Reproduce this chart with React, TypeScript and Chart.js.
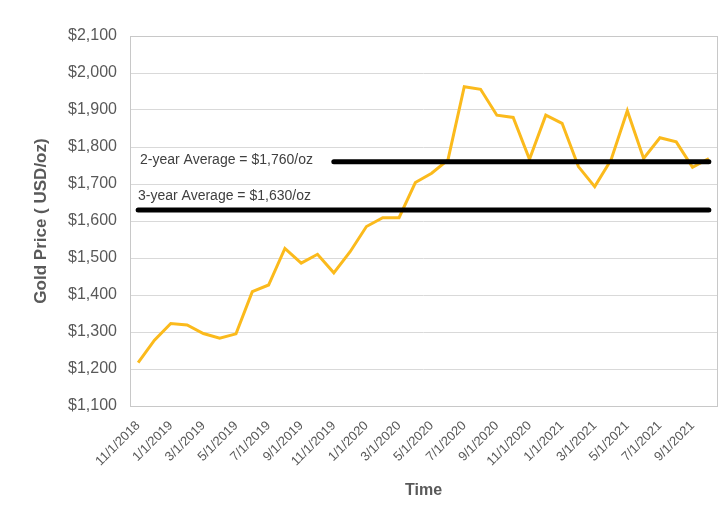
import React, { useEffect, useRef } from "react";
import { Chart, registerables } from "chart.js";

Chart.register(...registerables);

const months: string[] = [
  "11/1/2018", "12/1/2018", "1/1/2019", "2/1/2019", "3/1/2019", "4/1/2019",
  "5/1/2019", "6/1/2019", "7/1/2019", "8/1/2019", "9/1/2019", "10/1/2019",
  "11/1/2019", "12/1/2019", "1/1/2020", "2/1/2020", "3/1/2020", "4/1/2020",
  "5/1/2020", "6/1/2020", "7/1/2020", "8/1/2020", "9/1/2020", "10/1/2020",
  "11/1/2020", "12/1/2020", "1/1/2021", "2/1/2021", "3/1/2021", "4/1/2021",
  "5/1/2021", "6/1/2021", "7/1/2021", "8/1/2021", "9/1/2021", "10/1/2021",
];

const goldPrice: number[] = [
  1217, 1278, 1323, 1319, 1296, 1283,
  1295, 1409, 1427, 1526, 1486, 1510,
  1460, 1517, 1585, 1609, 1609, 1704,
  1729, 1765, 1963, 1956, 1886, 1880,
  1767, 1886, 1864, 1747, 1693, 1765,
  1898, 1769, 1825, 1814, 1745, 1769,
];

const twoYearAvg = 1760;
const threeYearAvg = 1630;
const twoYearStartIndex = 12;
const twoYearLabel = "2-year Average = $1,760/oz";
const threeYearLabel = "3-year Average = $1,630/oz";

const yMin = 1100;
const yMax = 2100;
const yStep = 100;

const GRAY = "#595959";
const FONT = "Arial, 'Liberation Sans', sans-serif";

export default function App() {
  const ref = useRef<HTMLCanvasElement | null>(null);

  useEffect(() => {
    if (!ref.current) return;

    const twoYearData = months.map((_, i) => (i >= twoYearStartIndex ? twoYearAvg : null));
    const threeYearData = months.map(() => threeYearAvg);

    const overlay = {
      id: "overlay",
      afterDatasetsDraw(chart: any) {
        const { ctx, chartArea, scales } = chart;
        ctx.save();
        ctx.fillStyle = "#404040";
        ctx.font = `14px ${FONT}`;
        ctx.textBaseline = "middle";
        ctx.textAlign = "left";
        const y2 = scales.y.getPixelForValue(twoYearAvg);
        const y3 = scales.y.getPixelForValue(threeYearAvg);
        ctx.fillText(twoYearLabel, chartArea.left + 10, y2 - 2);
        ctx.fillText(threeYearLabel, chartArea.left + 8, y3 - 14);
        ctx.restore();
      },
      beforeDatasetsDraw(chart: any) {
        const { ctx, chartArea } = chart;
        ctx.save();
        ctx.strokeStyle = "#c8c8c8";
        ctx.lineWidth = 1;
        ctx.strokeRect(
          Math.round(chartArea.left) + 0.5,
          Math.round(chartArea.top) + 0.5,
          Math.round(chartArea.right - chartArea.left),
          Math.round(chartArea.bottom - chartArea.top)
        );
        ctx.restore();
      },
    };

    const chart = new Chart(ref.current, {
      type: "line",
      data: {
        labels: months,
        datasets: [
          {
            label: "2-year Average",
            data: twoYearData,
            borderColor: "#000000",
            borderWidth: 5,
            borderCapStyle: "round",
            pointRadius: 0,
            spanGaps: false,
            order: 0,
          },
          {
            label: "3-year Average",
            data: threeYearData,
            borderColor: "#000000",
            borderWidth: 5,
            borderCapStyle: "round",
            pointRadius: 0,
            order: 0,
          },
          {
            label: "Gold Price",
            data: goldPrice,
            borderColor: "#FBBA1C",
            borderWidth: 3,
            pointRadius: 0,
            tension: 0,
            order: 1,
          },
        ],
      },
      options: {
        animation: false,
        responsive: false,
        maintainAspectRatio: false,
        layout: { padding: { top: 36, right: 10, left: 0, bottom: 0 } },
        plugins: {
          legend: { display: false },
          tooltip: { enabled: false },
        },
        scales: {
          x: {
            type: "category",
            offset: true,
            grid: { display: false, drawTicks: false },
            border: { display: false },
            ticks: {
              autoSkip: false,
              maxRotation: 45,
              minRotation: 45,
              padding: 12,
              color: GRAY,
              font: { family: FONT, size: 13 },
              callback: (_v: any, i: number) => (i % 2 === 0 ? months[i] : ""),
            },
            title: {
              display: true,
              text: "Time",
              color: GRAY,
              font: { family: FONT, size: 16, weight: "bold" },
              padding: { top: 0, bottom: 8 },
            },
            afterFit: (s: any) => {
              s.height = 102;
              s.paddingRight = 0;
              s.paddingLeft = 0;
            },
          },
          y: {
            min: yMin,
            max: yMax,
            grid: { color: "#d9d9d9", drawTicks: false },
            border: { display: false },
            ticks: {
              stepSize: yStep,
              padding: 13,
              color: GRAY,
              font: { family: FONT, size: 16 },
              callback: (v: any) => "$" + Number(v).toLocaleString("en-US"),
            },
            title: {
              display: true,
              text: "Gold Price ( USD/oz)",
              color: GRAY,
              font: { family: FONT, size: 17, weight: "bold" },
              padding: { top: 31, bottom: 0 },
            },
            afterFit: (s: any) => {
              s.width = 130;
              s.paddingTop = 0;
              s.paddingBottom = 0;
            },
          },
        },
      },
      plugins: [overlay],
    });

    return () => chart.destroy();
  }, []);

  return (
    <div style={{ position: "fixed", left: 0, top: 0, width: 727, height: 508, background: "#fff" }}>
      <canvas ref={ref} width={727} height={508} style={{ width: 727, height: 508 }} />
    </div>
  );
}
